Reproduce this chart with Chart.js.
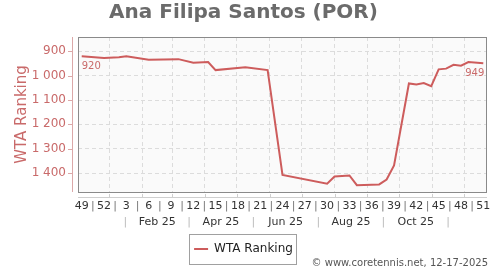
<!DOCTYPE html>
<html><head><meta charset="utf-8">
<script src="https://cdn.jsdelivr.net/npm/chart.js@4/dist/chart.umd.min.js"></script>
<style>html,body{margin:0;padding:0;background:#fff}#wrap{width:500px;height:270px}</style>
</head><body><div id="wrap"><canvas id="c" width="500" height="270"></canvas></div>
<script>
// ---- data ----
const weekNumbers = [49,50,51,52,1,2,3,4,5,6,7,8,9,10,11,12,13,14,15,16,17,18,19,20,21,22,23,24,25,26,27,28,29,30,31,32,33,34,35,36,37,38,39,40,41,42,43,44,45,46,47,48,49,50,51];
const ranking = [920,null,null,927,null,924,920,null,null,934,null,null,null,932,null,947,null,944,977,null,null,null,965,null,null,977,null,1408,null,null,null,null,null,1444,1414,null,1410,1450,null,null,1447,1427,1369,null,1032,1036,1030,1043,974,971,955,959,944,null,949];
const yTickValues = [900,1000,1100,1200,1300,1400];
const firstPointDate = '2024-12-06';
const monthStartDates = ['2025-01-01','2025-02-01','2025-03-01','2025-04-01','2025-05-01','2025-06-01','2025-07-01','2025-08-01','2025-09-01','2025-10-01','2025-11-01','2025-12-01'];
const monthLabels = ['Feb 25','Apr 25','Jun 25','Aug 25','Oct 25'];
const monthLabelMonths = ['2025-02','2025-04','2025-06','2025-08','2025-10'];
const seriesName = 'WTA Ranking';
const titleText = 'Ana Filipa Santos (POR)';
const creditText = '\u00A9 www.coretennis.net, 12-17-2025';

// ---- derived ----
const DAY = 864e5;
const t0 = Date.parse(firstPointDate);
const toIdx = d => (Date.parse(d) - t0) / (7 * DAY);
const monthStartIdx = monthStartDates.map(toIdx);
const monthLabelIdx = monthLabelMonths.map(m => {
  const [y, mo] = m.split('-').map(Number);
  const a = (Date.UTC(y, mo - 1, 1) - t0) / (7 * DAY);
  const b = (Date.UTC(y, mo, 1) - t0) / (7 * DAY);
  return (a + b) / 2;
});
const sepIdx = [];
for (let i = 0; i < monthLabelIdx.length; i++) {
  const prev = i > 0 ? monthLabelIdx[i - 1] : 2 * monthLabelIdx[0] - monthLabelIdx[1];
  sepIdx.push((prev + monthLabelIdx[i]) / 2);
}
{ const n = monthLabelIdx.length; sepIdx.push(monthLabelIdx[n - 1] + (monthLabelIdx[n - 1] - monthLabelIdx[n - 2]) / 2); }

const points = [];
ranking.forEach((v, i) => { if (v !== null) points.push({x: i, y: v}); });

const RED = '#cd5c5c';
const AXRED = '#c96a6a';
const fmt = v => String(v).replace(/\B(?=(\d{3})+(?!\d))/g, ' ');

const decor = {
  id: 'decor',
  beforeDraw(chart) {
    const {ctx, chartArea: a} = chart;
    ctx.save();
    ctx.fillStyle = '#fafafa';
    ctx.fillRect(a.left, a.top, a.right - a.left, a.bottom - a.top);
    ctx.restore();
  },
  afterDatasetsDraw(chart) {
    const {ctx, chartArea: a} = chart;
    const y = chart.scales.y;
    ctx.save();
    ctx.strokeStyle = '#8a8a8a';
    ctx.lineWidth = 1;
    ctx.strokeRect(a.left + 0.5, a.top + 0.5, a.right - a.left - 1, a.bottom - a.top);
    ctx.strokeStyle = '#dba8a8';
    ctx.beginPath();
    ctx.moveTo(a.left - 5.5, a.top);
    ctx.lineTo(a.left - 5.5, a.bottom);
    yTickValues.forEach(v => {
      const py = Math.round(y.getPixelForValue(v)) + 0.5;
      ctx.moveTo(a.left - 10, py);
      ctx.lineTo(a.left - 5, py);
    });
    ctx.stroke();
    ctx.strokeStyle = '#cfcfcf';
    ctx.beginPath();
    ctx.moveTo(a.left, a.bottom + 5.5);
    ctx.lineTo(a.right, a.bottom + 5.5);
    const xs = chart.scales.x;
    monthStartIdx.forEach(m => {
      const px = Math.round(xs.getPixelForValue(m)) + 0.5;
      ctx.moveTo(px, a.bottom + 2);
      ctx.lineTo(px, a.bottom + 6);
    });
    ctx.stroke();
    const meta = chart.getDatasetMeta(0);
    const first = meta.data[0], last = meta.data[meta.data.length - 1];
    ctx.fillStyle = AXRED;
    ctx.font = '10px "DejaVu Sans"';
    ctx.textBaseline = 'middle';
    ctx.textAlign = 'left';
    ctx.fillText(String(points[0].y), first.x, first.y + 10);
    ctx.textAlign = 'right';
    ctx.fillText(String(points[points.length - 1].y), last.x + 1, last.y + 10);
    ctx.restore();
  },
  afterDraw(chart) {
    const {ctx} = chart;
    ctx.save();
    const hb = chart.legend && chart.legend.legendHitBoxes && chart.legend.legendHitBoxes[0];
    if (hb) {
      ctx.strokeStyle = '#a0a0a0';
      ctx.lineWidth = 1;
      ctx.strokeRect(Math.round(hb.left - 5) + 0.5, Math.round(hb.top - 9) + 0.5, Math.round(hb.width + 8), Math.round(hb.height + 18));
    }
    ctx.fillStyle = '#555';
    ctx.font = '10px "DejaVu Sans"';
    ctx.textAlign = 'right';
    ctx.textBaseline = 'middle';
    ctx.fillText(creditText, 488, 263);
    ctx.restore();
  }
};

Chart.defaults.font.family = '"DejaVu Sans", sans-serif';

new Chart(document.getElementById('c'), {
  type: 'line',
  data: {
    datasets: [{
      label: seriesName,
      data: points,
      borderColor: RED,
      backgroundColor: RED,
      borderWidth: 2,
      pointRadius: 0,
      pointHoverRadius: 0,
      tension: 0,
      fill: false
    }]
  },
  options: {
    responsive: false,
    animation: false,
    devicePixelRatio: 1,
    layout: {padding: {left: 0, right: 13, top: 0, bottom: 5}},
    plugins: {
      title: {display: true, text: titleText, color: '#6b6b6b', font: {size: 20, weight: 'bold'}, padding: {top: 1, bottom: 12}},
      legend: {
        display: true, position: 'bottom',
        labels: {color: '#222', font: {size: 12}, usePointStyle: true, pointStyle: 'line', pointStyleWidth: 14, padding: 10}
      },
      tooltip: {enabled: false}
    },
    scales: {
      x: {
        type: 'linear', position: 'bottom', min: -0.5, max: 54.5,
        grid: {display: false, drawTicks: false},
        border: {display: false},
        afterBuildTicks: s => { const t = []; for (let v = 0; v <= 54; v += 1.5) t.push({value: v}); s.ticks = t; },
        ticks: {
          autoSkip: false, maxRotation: 0, padding: 8, font: {size: 11},
          color: c => (c.tick && Number.isInteger(c.tick.value) && c.tick.value % 3 === 0) ? '#333' : '#777',
          callback: v => (Number.isInteger(v) && v % 3 === 0) ? String(weekNumbers[v]) : '|'
        },
        afterFit: s => { s.height = 22; }
      },
      x2: {
        type: 'linear', position: 'bottom', min: -0.5, max: 54.5,
        grid: {display: true, drawTicks: false, drawOnChartArea: true, color: c => (c.tick && c.tick.kind === 'm') ? '#dcdcdc' : 'rgba(0,0,0,0)'},
        border: {display: false, dash: [4, 3]},
        afterBuildTicks: s => {
          const t = [];
          monthStartIdx.forEach(v => t.push({value: v, kind: 'm'}));
          monthLabelIdx.forEach((v, i) => t.push({value: v, kind: 'l', text: monthLabels[i]}));
          sepIdx.forEach(v => t.push({value: v, kind: 's'}));
          t.sort((p, q) => p.value - q.value);
          s.ticks = t;
        },
        ticks: {
          autoSkip: false, maxRotation: 0, padding: 2, font: {size: 11},
          color: c => (c.tick && c.tick.kind === 's') ? '#bbb' : '#333',
          callback: function(v, i, ticks) { const k = ticks[i]; return k.kind === 'l' ? k.text : (k.kind === 's' ? '|' : ''); }
        },
        afterFit: s => { s.height = 19; }
      },
      y: {
        type: 'linear', reverse: true, min: 841, max: 1478,
        afterBuildTicks: s => { s.ticks = yTickValues.map(v => ({value: v})); },
        grid: {color: '#dcdcdc', drawTicks: false},
        border: {display: false, dash: [4, 3]},
        ticks: {color: AXRED, font: {size: 12}, padding: 12, callback: v => fmt(v)},
        title: {display: true, text: seriesName, color: AXRED, font: {size: 15}, padding: {top: 13, bottom: 0}},
        afterFit: s => { s.width = 78; }
      }
    }
  },
  plugins: [decor]
});
</script>
</body></html>
